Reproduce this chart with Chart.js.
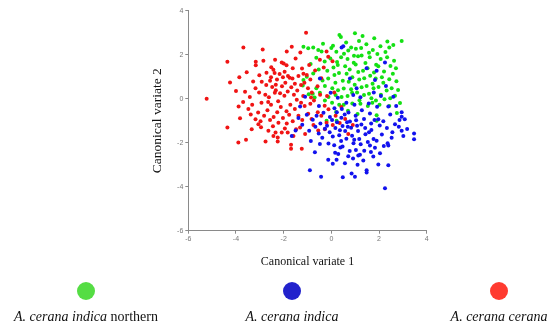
<!DOCTYPE html>
<html>
<head>
<meta charset="utf-8">
<script src="https://cdn.jsdelivr.net/npm/chart.js@4/dist/chart.umd.min.js"></script>
<style>
  html, body { margin: 0; padding: 0; background: #fff; }
  #wrap { position: relative; width: 550px; height: 330px; overflow: hidden; }
  #c { position: absolute; left: 0; top: 0; }
  .lg { position: absolute; top: 282px; width: 200px; text-align: center; font-family: "Liberation Serif", "DejaVu Serif", serif; font-size: 14px; color: #111; }
  .lg .dot { display: block; width: 18px; height: 18px; border-radius: 50%; margin: 0 auto 9px auto; }
  .lg i { font-style: italic; }
</style>
</head>
<body>
<div id="wrap">
  <canvas id="c" width="550" height="330"></canvas>
</div>
<script>
// ---- data (canonical variate 1, canonical variate 2) ----
const seriesNames = ["A. cerana indica northern", "A. cerana indica", "A. cerana cerana"];
const xTicks = [-6, -4, -2, 0, 2, 4];
const yTicks = [-6, -4, -2, 0, 2, 4];

const northernPts = [
[0.34,2.89],[0.4,2.8],[0.99,2.97],[1.31,2.85],[2.95,2.62],[2.6,2.44],[2.43,2.33],[-1.17,2.36],[-0.97,2.29],[-0.76,2.33],
[-0.55,2.21],[-0.41,2.14],[-1.17,0.85],[-1.03,1.0],[-0.76,1.15],
[0.07,2.41],[0.62,2.55],[0.83,2.33],[1.16,2.62],[1.47,2.47],[1.74,2.21],[2.06,2.38],[2.27,2.12],[0.21,2.13],[0.53,2.04],
[0.71,2.19],[1.03,2.27],[1.27,1.96],[1.58,2.09],[1.93,2.03],[2.34,1.88],[2.63,1.72],[-0.04,1.83],[-0.28,1.69],[-0.63,1.86],
[-0.87,1.58],[0.24,1.67],[0.41,1.88],[0.68,1.81],[0.94,1.63],[1.12,1.93],[1.43,1.62],[1.61,1.88],[1.88,1.54],[2.07,1.81],
[2.48,1.49],[2.71,1.38],[0.09,1.42],[0.27,1.53],[0.58,1.47],[0.77,1.33],[1.02,1.56],[1.33,1.27],[1.52,1.38],[1.79,1.19],
[1.97,1.47],[2.21,1.24],[2.58,1.13],[-0.53,1.33],[-0.17,1.27],[0.13,1.08],[0.32,1.17],[0.64,1.13],[0.88,0.98],[1.13,1.21],
[1.38,0.93],[1.63,1.04],[1.86,0.92],[2.12,0.97],[2.43,0.88],[2.73,0.79],[-0.37,0.83],[-0.13,0.92],[0.17,0.73],[0.48,0.82],
[0.73,0.77],[0.98,0.63],[1.17,0.87],[1.48,0.58],[1.73,0.68],[1.98,0.53],[2.18,0.72],[2.53,0.48],[-0.63,0.47],[-0.27,0.58],
[0.04,0.48],[0.28,0.38],[0.52,0.46],[0.83,0.43],[1.08,0.28],[1.27,0.52],[1.58,0.23],[1.77,0.47],[2.08,0.18],[2.32,0.37],
[2.67,0.13],[-0.78,0.23],[-0.48,0.27],[-0.12,0.08],[0.18,0.17],[0.43,0.08],[0.68,0.12],[0.87,0.27],[1.18,-0.07],[1.37,0.17],
[1.68,0.02],[1.87,-0.08],[2.23,-0.03],[2.47,0.02],[-0.27,-0.08],[0.03,-0.18],[0.33,-0.27],[0.52,-0.28],[0.88,-0.22],[1.22,-0.23],
[1.53,-0.33],[1.72,-0.18],[2.02,-0.28],[2.43,-0.33],[2.88,-0.2],[2.8,0.4],
[0.2,-0.6],[0.7,-0.55],[1.1,-0.7],[1.9,-0.75],[-0.2,-1.0],[0.22,-1.0],[1.9,-1.0],[2.75,-0.65],[0.95,1.95],
[1.25,2.3],[0.0,2.3],[-0.35,2.5],[2.35,2.6],[1.8,2.75],[-1.2,0.6],[-0.95,0.2],[-0.7,0.05]
];

const indicaPts = [
[-0.9,-3.25],[-0.43,-3.55],[0.48,-3.57],[0.99,-3.55],[0.85,-3.4],[1.48,-3.25],[1.48,-3.35],[2.25,-4.07],[1.97,-2.99],[2.39,-3.03],
[2.39,-2.13],[2.2,-2.15],[3.47,-1.84],[3.47,-1.58],[3.02,-1.69],[2.95,-1.46],[2.67,-1.16],[-0.69,-2.43],[-0.48,-2.06],[-1.66,-1.69],
[-1.5,-1.45],[0.06,-2.96],[-0.13,-2.78],[0.22,-2.78],[0.29,-2.51],[0.57,-2.93],[1.13,-2.58],[1.2,-2.55],[1.76,-2.63],[1.9,-1.91],
[1.62,-2.13],[0.43,2.33],[0.5,2.38],[2.25,1.64],[1.9,1.27],[1.48,1.38],[1.83,0.85],[2.29,0.58],[0.78,0.92],[-0.48,0.92],
[1.06,0.47],[0.92,0.17],[2.6,0.09],[2.39,-0.36],[2.95,-0.62],[2.95,-0.82],[-1.1,0.09],[-1.31,-0.36],
[-1.03,-0.73],[-0.78,-0.96],[-0.62,-0.77],[-0.93,-1.46],[-0.67,-1.27],[-0.46,-1.13],[-0.33,-0.64],[-0.18,-1.23],[-0.07,-1.53],[-0.38,-1.77],
[-0.12,-2.04],[0.03,-0.97],[0.13,-0.43],[0.17,-1.33],[0.33,-1.66],[0.12,-2.12],[0.38,-2.22],[0.42,-0.87],[0.47,-1.24],[0.58,-1.47],
[0.63,-1.82],[0.47,-2.17],[0.72,-0.63],[0.78,-1.04],[0.83,-1.32],[0.87,-1.68],[0.93,-2.03],[0.77,-2.38],[1.02,-0.77],[1.08,-1.23],
[1.12,-1.47],[1.17,-1.83],[1.23,-2.07],[1.03,-2.33],[1.28,-0.53],[1.37,-0.92],[1.42,-1.33],[1.43,-1.62],[1.53,-1.97],[1.38,-2.37],
[1.62,-0.67],[1.67,-1.13],[1.68,-1.42],[1.77,-1.83],[1.83,-2.23],[1.92,-0.37],[1.97,-0.93],[2.03,-1.22],[2.12,-1.63],[2.18,-1.03],
[2.33,-1.33],[2.47,-0.72],[2.53,-1.77],[2.72,-0.33],[2.83,-1.27],[3.08,-0.93],[-0.03,0.27],[0.27,0.04],[0.63,-0.18],[-0.52,-0.33],
[0.23,-0.62],[0.44,-0.47],[0.97,-0.28],[1.22,0.07],[1.57,-0.22],[1.78,0.28],[2.08,0.12],[0.66,-1.07],[0.36,-1.43],[0.06,-1.72],
[-0.27,-1.37],[-0.53,-1.58],[1.26,-1.17],[1.58,-1.53],[0.96,-1.87],[0.69,-1.28],[1.04,-0.98],[0.24,-1.07],[0.41,-1.92],[0.16,-2.46],
[0.71,-2.62],[1.66,-2.42],[2.04,-2.48],[-0.86,-1.92],[-1.22,-1.18],[-1.38,-0.88],[-0.06,-0.83],[2.56,-1.52],[3.18,-1.38],[2.86,-0.97],
[0.91,-2.72],[1.34,-2.81],[0.56,-0.72],[1.81,-0.97],[2.36,-2.02],[1.1,-3.0]
];

const ceranaPts = [
[-5.23,0.0],[-4.36,1.68],[-4.25,0.74],[-3.86,0.97],[-3.69,2.33],[-3.89,-0.36],[-3.83,-0.89],[-4.36,-1.31],[-3.9,-1.99],[-3.58,-1.87],
[-3.34,-1.39],[-3.06,-1.16],[-2.76,-1.94],[-2.64,-1.46],[-2.43,-1.69],[-2.34,-1.54],[-2.25,-1.94],[-2.25,-1.76],[-2.22,-1.09],[-2.08,-1.54],
[-1.87,-1.13],[-1.83,-1.54],[-1.69,-2.09],[-1.69,-2.28],[-1.59,-1.69],[-1.31,-1.31],[-1.24,-2.28],[-1.1,-1.61],[-1.48,-1.39],[-0.27,-1.39],
[-0.2,-1.09],[0.06,-1.19],[0.71,-1.61],
[-2.88,2.24],[-1.66,2.36],[-1.87,2.14],[-1.06,3.0],[-3.17,1.68],[-3.17,1.52],[-2.85,1.73],[-2.36,1.77],[-2.08,1.65],[-1.5,1.83],
[-2.0,1.6],[-0.2,2.14],[-0.13,1.91],[-0.48,1.77],[-1.3,2.1],[0.05,1.7],
[-2.52,1.43],[-2.43,1.32],[-2.38,1.17],[-2.53,0.98],[-2.28,0.87],[-2.17,1.12],[-1.96,1.23],[-1.82,1.03],[-1.63,0.92],[-1.38,1.03],
[-1.17,1.13],[-1.03,1.08],[-0.88,0.87],[-1.13,0.73],[-1.27,0.62],[-1.53,0.68],[-1.68,0.52],[-1.93,0.72],[-2.07,0.57],[-2.33,0.38],
[-2.48,0.53],[-2.73,0.62],[-2.92,0.77],[-3.03,0.28],[-3.18,0.47],[-2.77,0.18],[-2.62,0.07],[-2.37,0.27],[-2.23,-0.12],[-1.97,0.13],
[-1.83,0.33],[-1.57,0.18],[-1.43,0.37],[-1.18,0.12],[-0.98,0.47],[-0.82,0.28],[-0.58,0.57],[-0.47,0.18],[-0.73,-0.08],[-0.88,-0.23],
[-1.12,-0.33],[-1.27,-0.18],[-1.53,-0.47],[-1.72,-0.28],[-1.88,-0.57],[-2.12,-0.38],[-2.27,-0.62],[-2.53,-0.28],[-2.68,-0.52],[-2.93,-0.18],
[-3.07,-0.63],[-3.32,-0.27],[-3.48,-0.47],[-3.42,0.08],[-3.62,0.32],[-3.18,-0.93],[-2.97,-1.02],[-2.82,-0.77],[-2.57,-0.97],[-2.42,-0.83],
[-2.03,-0.88],[-1.77,-0.73],[-1.62,-1.03],[-1.38,-0.78],[-1.22,-0.97],[-0.97,-0.68],[-0.83,-0.92],[-0.57,-0.62],[-0.42,-0.78],[-0.28,-0.32],
[-0.12,-0.48],[0.18,-0.77],[0.42,-0.38],[0.58,-0.92],[-0.18,0.12],[0.12,0.28],[-0.42,0.93],[-0.68,1.28],[-0.32,1.42],[-1.62,1.38],
[-1.88,1.52],[-2.72,1.18],[-3.02,1.07],[-3.28,0.78],[-2.57,0.82],[-2.33,0.63],[-2.03,0.97],[-1.23,1.37],[-0.93,1.53],[-3.38,-0.72],
[-2.95,-1.3],[-2.45,-1.25],[-1.95,-1.35],[-0.75,-1.2],[-0.55,-1.45],[0.35,-1.1],[0.9,-1.2],[-2.65,-0.15],[-1.45,-0.05],[-0.85,0.05],
[-1.75,0.95],[-2.15,0.25],[-3.7,-0.15],[-4.0,0.35],[-3.55,1.2]
];

const pointColors = ["#14e014", "#1212ee", "#f01414"];
const legendColors = ["#55dd44", "#2222cc", "#ff3b30"];

const toXY = arr => arr.map(p => ({x: p[0], y: p[1]}));

const tickGray = "#8a8a8a";
const axisCommon = {
  type: "linear",
  min: -6, max: 4,
  border: { display: true, color: tickGray, width: 1 },
  grid: { drawOnChartArea: false, drawTicks: true, tickLength: 3, color: tickGray, lineWidth: 1 },
};

new Chart(document.getElementById("c"), {
  type: "scatter",
  data: {
    datasets: [
      { label: seriesNames[1], data: toXY(indicaPts), backgroundColor: pointColors[1], borderWidth: 0, pointRadius: 2, order: 0 },
      { label: seriesNames[2], data: toXY(ceranaPts), backgroundColor: pointColors[2], borderWidth: 0, pointRadius: 2, order: 1 },
      { label: seriesNames[0], data: toXY(northernPts), backgroundColor: pointColors[0], borderWidth: 0, pointRadius: 2, order: 2 }
    ]
  },
  options: {
    responsive: false,
    animation: false,
    events: [],
    layout: { padding: { left: 140, right: 123.3, top: 10.7, bottom: 54.3 } },
    plugins: { legend: { display: false }, tooltip: { enabled: false } },
    scales: {
      x: Object.assign({}, axisCommon, {
        position: "bottom",
        afterBuildTicks: s => { s.ticks = xTicks.map(v => ({value: v})); },
        afterFit: s => { s.height = 45; },
        ticks: { color: "#777", font: { family: "Liberation Sans", size: 7 }, padding: 1, maxRotation: 0, autoSkip: false },
        title: { display: true, text: "Canonical variate 1", color: "#111",
                 font: { family: "Liberation Serif", size: 12 }, padding: { top: 0, bottom: 6.8 } }
      }),
      y: Object.assign({}, axisCommon, {
        position: "left",
        afterBuildTicks: s => { s.ticks = yTicks.map(v => ({value: v})); },
        afterFit: s => { s.width = 48.3; },
        ticks: { color: "#777", font: { family: "Liberation Sans", size: 7 }, padding: 2, autoSkip: false },
        title: { display: true, text: "Canonical variate 2", color: "#111",
                 font: { family: "Liberation Serif", size: 13.5 }, padding: { top: 9.6, bottom: 0 } }
      })
    }
  }
});

// legend (HTML, mixed italic/roman text)
const legendItems = [
  { idx: 0, cx: 86, html: "<i>A. cerana indica</i> northern" },
  { idx: 1, cx: 292, html: "<i>A. cerana indica</i>" },
  { idx: 2, cx: 499, html: "<i>A. cerana cerana</i>" }
];
const wrap = document.getElementById("wrap");
legendItems.forEach(it => {
  const d = document.createElement("div");
  d.className = "lg";
  d.style.left = (it.cx - 100) + "px";
  d.innerHTML = '<span class="dot" style="background:' + legendColors[it.idx] + '"></span>' + it.html;
  wrap.appendChild(d);
});
</script>
</body>
</html>
